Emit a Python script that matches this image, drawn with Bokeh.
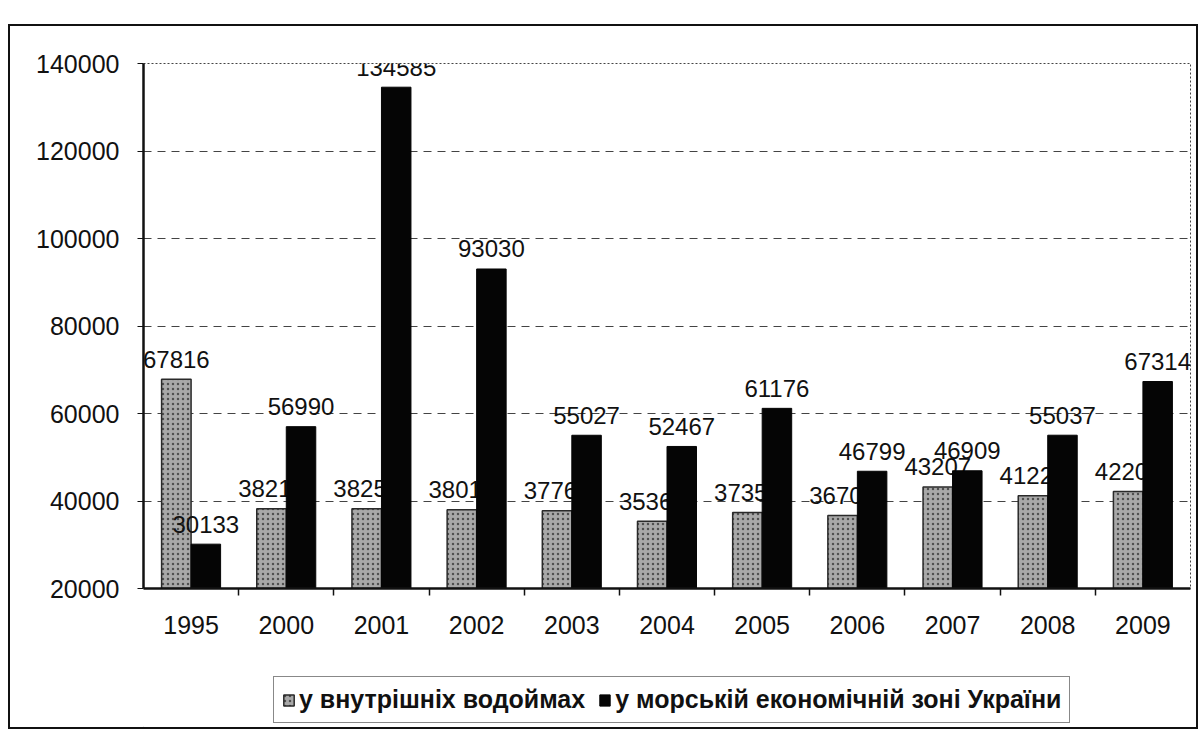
from bokeh.plotting import figure
from bokeh.layouts import column
from bokeh.models import (ColumnDataSource, Range1d, FixedTicker,
                          NumeralTickFormatter, Legend, LegendItem, LinearAxis)
from bokeh.core.properties import value
from bokeh.embed import file_html
from bokeh.resources import INLINE

years = ["1995", "2000", "2001", "2002", "2003", "2004", "2005", "2006", "2007", "2008", "2009"]
inland = [67816, 38210, 38250, 38010, 37760, 35360, 37350, 36700, 43207, 41220, 42200]
marine = [30133, 56990, 134585, 93030, 55027, 52467, 61176, 46799, 46909, 55037, 67314]
y_ticks = [20000, 40000, 60000, 80000, 100000, 120000, 140000]
series_names = ["у внутрішніх водоймах", "у морській економічній зоні України"]

n = len(years)
centers = [i + 0.5 for i in range(n)]
boundaries = list(range(1, n))
OFF = 0.155
BW = 0.31

src = ColumnDataSource(dict(
    year=years,
    xg=[c - OFF for c in centers],
    xb=[c + OFF for c in centers],
    inland=inland,
    marine=marine,
    inland_lbl=[str(v) for v in inland],
    marine_lbl=[str(v) for v in marine],
))

FONT = "Liberation Sans"
INK = "#111111"
GRAY_STYLE = dict(fill_color="#a8a8a8", line_color="#2a2a2a", line_width=1.5,
                  hatch_pattern="dot", hatch_color="#3a3a3a", hatch_scale=5, hatch_alpha=0.8)
DARK_STYLE = dict(fill_color="#050505", line_color="#050505")

p = figure(x_range=Range1d(0, n),
           y_range=Range1d(y_ticks[0], y_ticks[-1]),
           width=1186, height=632,
           output_backend="svg", toolbar_location=None,
           x_axis_location=None,
           min_border_left=133, min_border_right=6,
           min_border_top=37, min_border_bottom=70)

p.outline_line_color = "#444"
p.outline_line_dash = "2 2"
p.outline_line_width = 1

# x axis: year labels at category centres, small ticks at category boundaries
xaxis = LinearAxis(ticker=FixedTicker(ticks=centers, minor_ticks=boundaries),
                   major_label_overrides={c: y for c, y in zip(centers, years)},
                   axis_line_color=INK, axis_line_width=2.5,
                   major_tick_line_color=None,
                   minor_tick_line_color=INK, minor_tick_line_width=1.5,
                   minor_tick_out=7, minor_tick_in=0,
                   major_label_text_font=FONT, major_label_text_font_size="25px",
                   major_label_text_color=INK, major_label_standoff=20)
p.add_layout(xaxis, "below")

# gray bars + labels (drawn first so dark bars cover parts of labels)
p.vbar(x="xg", top="inland", bottom=y_ticks[0], width=BW, source=src, **GRAY_STYLE)
p.text(x="xg", y="inland", text="inland_lbl", source=src,
       text_align="center", text_baseline="alphabetic", y_offset=-20,
       text_font=value(FONT), text_font_size="24px", text_color=INK)

p.vbar(x="xb", top="marine", bottom=y_ticks[0], width=BW, source=src, **DARK_STYLE)
p.text(x="xb", y="marine", text="marine_lbl", source=src,
       text_align="center", text_baseline="alphabetic", y_offset=-20,
       text_font=value(FONT), text_font_size="24px", text_color=INK)

# y axis
p.yaxis.ticker = FixedTicker(ticks=y_ticks)
p.yaxis.formatter = NumeralTickFormatter(format="0")
p.yaxis.major_label_text_font = FONT
p.yaxis.major_label_text_font_size = "25px"
p.yaxis.major_label_text_color = INK
p.yaxis.axis_line_color = INK
p.yaxis.axis_line_width = 2.5
p.yaxis.major_tick_out = 6
p.yaxis.major_tick_in = 0
p.yaxis.major_tick_line_color = INK
p.yaxis.minor_tick_line_color = None
p.yaxis.major_label_standoff = 18

p.xgrid.grid_line_color = None
p.ygrid.ticker = FixedTicker(ticks=y_ticks[1:-1])
p.ygrid.grid_line_color = "#444444"
p.ygrid.grid_line_dash = "8 6"
p.ygrid.grid_line_width = 1

# legend strip (separate figure so it is not clipped by the chart frame);
# its swatch renderers reuse the chart's first bar pair, placed outside the strip's view
leg = figure(x_range=Range1d(0, 1), y_range=Range1d(0, 1),
             width=1186, height=69, output_backend="svg", toolbar_location=None,
             min_border=0, x_axis_location=None, y_axis_location=None)
leg.outline_line_color = None
leg.xgrid.visible = False
leg.ygrid.visible = False
swatch = ColumnDataSource(dict(x=[-10.0], top=[-10.0]))
g1 = leg.vbar(x="x", top="top", width=0.1, source=swatch, **GRAY_STYLE)
g2 = leg.vbar(x="x", top="top", width=0.1, source=swatch, **DARK_STYLE)
legend = Legend(items=[LegendItem(label=series_names[0], renderers=[g1]),
                       LegendItem(label=series_names[1], renderers=[g2])],
                orientation="horizontal", location=(130, 4),
                label_text_font=FONT, label_text_font_size="25px",
                label_text_font_style="bold", label_text_color=INK,
                glyph_width=13, glyph_height=14, spacing=13,
                label_standoff=4, padding=8, margin=0,
                border_line_color=INK, border_line_width=1.5,
                background_fill_alpha=1)
leg.add_layout(legend, "center")

page = column(p, leg, spacing=0)
page.margin = (24, 0, 0, 8)
page.styles = {"border": "2px solid #111"}

open("out.html", "w").write(file_html(page, INLINE))
